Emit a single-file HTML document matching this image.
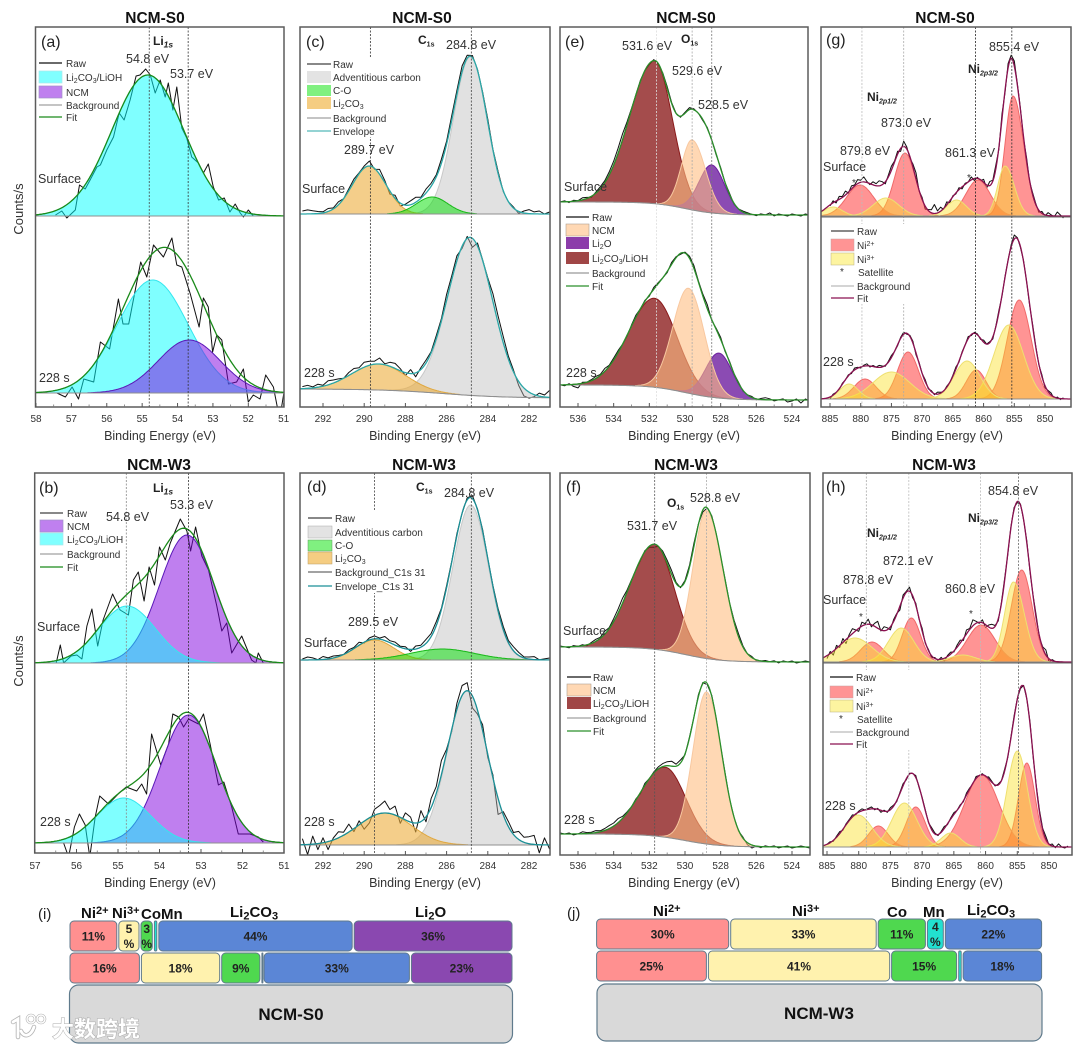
<!DOCTYPE html>
<html lang="en">
<head>
<meta charset="utf-8">
<title>XPS spectra of NCM-S0 and NCM-W3</title>
<style>
html,body{margin:0;padding:0;background:#fff;width:1080px;height:1048px;overflow:hidden}
svg{display:block;font-family:"Liberation Sans",Arial,sans-serif;fill:#222;filter:blur(.35px)}
.ti{font-size:15.5px;font-weight:bold;text-anchor:middle;fill:#111}
.ax{font-size:12.5px;text-anchor:middle;fill:#333}
.tk{font-size:10px;text-anchor:middle;fill:#333}
.pl{font-size:16px;fill:#222}
.t{font-size:12.5px;fill:#333}
.k{font-size:12px;font-weight:bold;fill:#222}
.l{font-size:10px;fill:#333}
.h{font-size:15px;font-weight:bold;fill:#111}
.s{font-size:7px}
.ss{font-size:8.5px;font-style:italic}
.hs{font-size:11px}
.big{font-size:17px;font-weight:bold;text-anchor:middle;fill:#111}
.bv{font-size:12px;font-weight:bold;text-anchor:middle;fill:#222}
</style>
</head>
<body>
<svg id="figure" xmlns="http://www.w3.org/2000/svg" width="1080" height="1048" viewBox="0 0 1080 1048">
<g id="marks"></g>

<!-- titles -->
<g>
<text class="ti" x="155" y="23">NCM-S0</text>
<text class="ti" x="422" y="23">NCM-S0</text>
<text class="ti" x="686" y="23">NCM-S0</text>
<text class="ti" x="945" y="23">NCM-S0</text>
<text class="ti" x="159" y="470">NCM-W3</text>
<text class="ti" x="424" y="470">NCM-W3</text>
<text class="ti" x="686" y="470">NCM-W3</text>
<text class="ti" x="944" y="470">NCM-W3</text>
</g>

<!-- axis titles -->
<g>
<text class="ax" x="160" y="440">Binding Energy (eV)</text>
<text class="ax" x="425" y="440">Binding Energy (eV)</text>
<text class="ax" x="684" y="440">Binding Energy (eV)</text>
<text class="ax" x="947" y="440">Binding Energy (eV)</text>
<text class="ax" x="160" y="887">Binding Energy (eV)</text>
<text class="ax" x="425" y="887">Binding Energy (eV)</text>
<text class="ax" x="684" y="887">Binding Energy (eV)</text>
<text class="ax" x="947" y="887">Binding Energy (eV)</text>
<text class="ax" style="font-size:13px" transform="translate(23,209) rotate(-90)">Counts/s</text>
<text class="ax" style="font-size:13px" transform="translate(23,661) rotate(-90)">Counts/s</text>
</g>

<!-- legends -->
<g>
<g><line x1="39" x2="62" y1="63" y2="63" stroke="#111" stroke-width="1.3"/><text class="l" x="66" y="67">Raw</text></g>
<g><rect x="39" y="71" width="23" height="12" fill="#80ffff" stroke="#a8e8ec" stroke-width=".7"/><text class="l" x="66" y="81">Li<tspan class="s" dy="2">2</tspan><tspan dy="-2">CO</tspan><tspan class="s" dy="2">3</tspan><tspan dy="-2">/LiOH</tspan></text></g>
<g><rect x="39" y="86" width="23" height="12" fill="#bf80ef" stroke="#a090c8" stroke-width=".7"/><text class="l" x="66" y="96">NCM</text></g>
<g><line x1="39" x2="62" y1="105" y2="105" stroke="#888" stroke-width="1"/><text class="l" x="66" y="109">Background</text></g>
<g><line x1="39" x2="62" y1="117" y2="117" stroke="#1a8a1a" stroke-width="1.3"/><text class="l" x="66" y="121">Fit</text></g>
</g>
<g>
<g><line x1="40" x2="63" y1="513" y2="513" stroke="#111" stroke-width="1"/><text class="l" x="67" y="517">Raw</text></g>
<g><rect x="40" y="520" width="23" height="12" fill="#bf80ef" stroke="#a090c8" stroke-width=".7"/><text class="l" x="67" y="530">NCM</text></g>
<g><rect x="40" y="533" width="23" height="12" fill="#80ffff" stroke="#a8e8ec" stroke-width=".7"/><text class="l" x="67" y="543">Li<tspan class="s" dy="2">2</tspan><tspan dy="-2">CO</tspan><tspan class="s" dy="2">3</tspan><tspan dy="-2">/LiOH</tspan></text></g>
<g><line x1="40" x2="63" y1="554" y2="554" stroke="#888" stroke-width="1"/><text class="l" x="67" y="558">Background</text></g>
<g><line x1="40" x2="63" y1="567" y2="567" stroke="#1a8a1a" stroke-width="1.3"/><text class="l" x="67" y="571">Fit</text></g>
</g>
<g>
<rect x="304" y="57" width="130" height="80" fill="#fff"/>
<g><line x1="307" x2="331" y1="64" y2="64" stroke="#111" stroke-width="1"/><text class="l" x="333" y="68">Raw</text></g>
<g><rect x="307" y="71" width="24" height="12" fill="#e3e3e3"/><text class="l" x="333" y="81">Adventitious carbon</text></g>
<g><rect x="307" y="85" width="24" height="11" fill="#80f080"/><text class="l" x="333" y="94">C-O</text></g>
<g><rect x="307" y="97" width="24" height="12" fill="#f5cd82"/><text class="l" x="333" y="107">Li<tspan class="s" dy="2">2</tspan><tspan dy="-2">CO</tspan><tspan class="s" dy="2">3</tspan></text></g>
<g><line x1="307" x2="331" y1="118" y2="118" stroke="#888" stroke-width="1"/><text class="l" x="333" y="122">Background</text></g>
<g><line x1="307" x2="331" y1="131" y2="131" stroke="#2aa7a7" stroke-width="1"/><text class="l" x="333" y="135">Envelope</text></g>
</g>
<g>
<rect x="305" y="511" width="130" height="82" fill="#fff"/>
<g><line x1="308" x2="332" y1="518" y2="518" stroke="#111" stroke-width="1"/><text class="l" x="335" y="522">Raw</text></g>
<g><rect x="308" y="526" width="24" height="12" fill="#e3e3e3" stroke="#aaa" stroke-width=".5"/><text class="l" x="335" y="536">Adventitious carbon</text></g>
<g><rect x="308" y="540" width="24" height="11" fill="#80f080" stroke="#5a9a5a" stroke-width=".5"/><text class="l" x="335" y="549">C-O</text></g>
<g><rect x="308" y="552" width="24" height="12" fill="#f5cd82" stroke="#b89a60" stroke-width=".5"/><text class="l" x="335" y="562">Li<tspan class="s" dy="2">2</tspan><tspan dy="-2">CO</tspan><tspan class="s" dy="2">3</tspan></text></g>
<g><line x1="308" x2="332" y1="572" y2="572" stroke="#444" stroke-width="1"/><text class="l" x="335" y="576">Background_C1s 31</text></g>
<g><line x1="308" x2="332" y1="586" y2="586" stroke="#1a8f96" stroke-width="1.2"/><text class="l" x="335" y="590">Envelope_C1s 31</text></g>
</g>
<g>
<g><line x1="566" x2="589" y1="217" y2="217" stroke="#111" stroke-width="1.3"/><text class="l" x="592" y="221">Raw</text></g>
<g><rect x="566" y="224" width="23" height="12" fill="#ffd8b4" stroke="#b0a090" stroke-width=".6"/><text class="l" x="592" y="234">NCM</text></g>
<g><rect x="566" y="237" width="23" height="12" fill="#8c3caa"/><text class="l" x="592" y="247">Li<tspan class="s" dy="2">2</tspan><tspan dy="-2">O</tspan></text></g>
<g><rect x="566" y="252" width="23" height="12" fill="#a04646"/><text class="l" x="592" y="262">Li<tspan class="s" dy="2">2</tspan><tspan dy="-2">CO</tspan><tspan class="s" dy="2">3</tspan><tspan dy="-2">/LiOH</tspan></text></g>
<g><line x1="566" x2="589" y1="273" y2="273" stroke="#999" stroke-width="1.2"/><text class="l" x="592" y="277">Background</text></g>
<g><line x1="566" x2="589" y1="286" y2="286" stroke="#2a8f2a" stroke-width="1.3"/><text class="l" x="592" y="290">Fit</text></g>
</g>
<g>
<g><line x1="567" x2="591" y1="677" y2="677" stroke="#111" stroke-width="1.3"/><text class="l" x="593" y="681">Raw</text></g>
<g><rect x="567" y="684" width="24" height="12" fill="#ffd8b4" stroke="#b0a090" stroke-width=".6"/><text class="l" x="593" y="694">NCM</text></g>
<g><rect x="567" y="697" width="24" height="12" fill="#a04646"/><text class="l" x="593" y="707">Li<tspan class="s" dy="2">2</tspan><tspan dy="-2">CO</tspan><tspan class="s" dy="2">3</tspan><tspan dy="-2">/LiOH</tspan></text></g>
<g><line x1="567" x2="591" y1="718" y2="718" stroke="#888" stroke-width="1"/><text class="l" x="593" y="722">Background</text></g>
<g><line x1="567" x2="591" y1="731" y2="731" stroke="#2a8f2a" stroke-width="1.3"/><text class="l" x="593" y="735">Fit</text></g>
</g>
<g>
<rect x="826" y="224" width="100" height="80" fill="#fff"/>
<g><line x1="831" x2="854" y1="231" y2="231" stroke="#111" stroke-width="1"/><text class="l" x="857" y="235">Raw</text></g>
<g><rect x="831" y="239" width="23" height="12" fill="#ff9494" stroke="#c8a0a0" stroke-width=".5"/><text class="l" x="857" y="249">Ni<tspan class="s" dy="-3">2+</tspan></text></g>
<g><rect x="831" y="253" width="23" height="12" fill="#fdf4a0" stroke="#b8b080" stroke-width=".5"/><text class="l" x="857" y="263">Ni<tspan class="s" dy="-3">3+</tspan></text></g>
<g><text class="l" x="840" y="275">*</text><text class="l" x="858" y="276">Satellite</text></g>
<g><line x1="831" x2="854" y1="286" y2="286" stroke="#bbb" stroke-width="1.2"/><text class="l" x="857" y="290">Background</text></g>
<g><line x1="831" x2="854" y1="298" y2="298" stroke="#8a1050" stroke-width="1.2"/><text class="l" x="857" y="302">Fit</text></g>
</g>
<g>
<rect x="826" y="670" width="100" height="80" fill="#fff"/>
<g><line x1="830" x2="853" y1="677" y2="677" stroke="#111" stroke-width="1.2"/><text class="l" x="856" y="681">Raw</text></g>
<g><rect x="830" y="686" width="23" height="12" fill="#ff9494" stroke="#c8a0a0" stroke-width=".5"/><text class="l" x="856" y="696">Ni<tspan class="s" dy="-3">2+</tspan></text></g>
<g><rect x="830" y="700" width="23" height="12" fill="#fdf4a0" stroke="#b8b080" stroke-width=".5"/><text class="l" x="856" y="710">Ni<tspan class="s" dy="-3">3+</tspan></text></g>
<g><text class="l" x="839" y="722">*</text><text class="l" x="857" y="723">Satellite</text></g>
<g><line x1="830" x2="853" y1="732" y2="732" stroke="#bbb" stroke-width="1.2"/><text class="l" x="856" y="736">Background</text></g>
<g><line x1="830" x2="853" y1="744" y2="744" stroke="#8a1050" stroke-width="1.2"/><text class="l" x="856" y="748">Fit</text></g>
</g>

<!-- annotations -->
<g>
<text class="pl" x="41" y="47">(a)</text>
<text class="k" x="153" y="45">Li<tspan class="ss" dy="2.5">1s</tspan></text>
<text class="t" x="126" y="63">54.8 eV</text>
<text class="t" x="170" y="78">53.7 eV</text>
<text class="t" x="38" y="183">Surface</text>
<text class="t" x="39" y="382">228 s</text>
</g>
<g>
<text class="pl" x="39" y="493">(b)</text>
<text class="k" x="153" y="492">Li<tspan class="ss" dy="2.5">1s</tspan></text>
<text class="t" x="106" y="521">54.8 eV</text>
<text class="t" x="170" y="509">53.3 eV</text>
<text class="t" x="37" y="631">Surface</text>
<text class="t" x="40" y="826">228 s</text>
</g>
<g>
<text class="pl" x="306" y="47">(c)</text>
<text class="k" x="418" y="44">C<tspan class="s" dy="2.5">1s</tspan></text>
<text class="t" x="446" y="49">284.8 eV</text>
<text class="t" x="344" y="154">289.7 eV</text>
<text class="t" x="302" y="193">Surface</text>
<text class="t" x="304" y="377">228 s</text>
</g>
<g>
<text class="pl" x="307" y="492">(d)</text>
<text class="k" x="416" y="491">C<tspan class="s" dy="2.5">1s</tspan></text>
<text class="t" x="444" y="497">284.8 eV</text>
<text class="t" x="348" y="626">289.5 eV</text>
<text class="t" x="304" y="647">Surface</text>
<text class="t" x="304" y="826">228 s</text>
</g>
<g>
<text class="pl" x="565" y="47">(e)</text>
<text class="k" x="681" y="43">O<tspan class="s" dy="2.5">1s</tspan></text>
<text class="t" x="622" y="50">531.6 eV</text>
<text class="t" x="672" y="75">529.6 eV</text>
<text class="t" x="698" y="109">528.5 eV</text>
<text class="t" x="564" y="191">Surface</text>
<text class="t" x="566" y="377">228 s</text>
</g>
<g>
<text class="pl" x="566" y="492">(f)</text>
<text class="k" x="667" y="507">O<tspan class="s" dy="2.5">1s</tspan></text>
<text class="t" x="690" y="502">528.8 eV</text>
<text class="t" x="627" y="530">531.7 eV</text>
<text class="t" x="563" y="635">Surface</text>
<text class="t" x="564" y="824">228 s</text>
</g>
<g>
<text class="pl" x="826" y="45">(g)</text>
<text class="k" x="968" y="73">Ni<tspan class="s" style="font-style:italic" dy="2.5">2p3/2</tspan></text>
<text class="k" x="867" y="101">Ni<tspan class="s" style="font-style:italic" dy="2.5">2p1/2</tspan></text>
<text class="t" x="989" y="51">855.4 eV</text>
<text class="t" x="881" y="127">873.0 eV</text>
<text class="t" x="840" y="155">879.8 eV</text>
<text class="t" x="945" y="157">861.3 eV</text>
<text class="t" x="823" y="171">Surface</text>
<text class="t" x="823" y="366">228 s</text>
<text class="l" x="852" y="186">*</text>
<text class="l" x="967" y="181">*</text>
</g>
<g>
<text class="pl" x="826" y="492">(h)</text>
<text class="k" x="968" y="522">Ni<tspan class="s" style="font-style:italic" dy="2.5">2p3/2</tspan></text>
<text class="k" x="867" y="537">Ni<tspan class="s" style="font-style:italic" dy="2.5">2p1/2</tspan></text>
<text class="t" x="988" y="495">854.8 eV</text>
<text class="t" x="883" y="565">872.1 eV</text>
<text class="t" x="843" y="584">878.8 eV</text>
<text class="t" x="945" y="593">860.8 eV</text>
<text class="t" x="823" y="604">Surface</text>
<text class="t" x="825" y="810">228 s</text>
<text class="l" x="859" y="620">*</text>
<text class="l" x="969" y="617">*</text>
</g>

<!-- composition headers -->
<g>
<text class="pl" x="38" y="919" style="font-size:15px">(i)</text>
<text class="h" x="81" y="918">Ni<tspan class="hs" dy="-4">2+</tspan></text>
<text class="h" x="112" y="918">Ni<tspan class="hs" dy="-4">3+</tspan></text>
<text class="h" x="141" y="919">Co</text>
<text class="h" x="161" y="919">Mn</text>
<text class="h" x="230" y="917">Li<tspan class="hs" dy="2.5">2</tspan><tspan dy="-2.5">CO</tspan><tspan class="hs" dy="2.5">3</tspan></text>
<text class="h" x="415" y="917">Li<tspan class="hs" dy="2.5">2</tspan><tspan dy="-2.5">O</tspan></text>
</g>
<g>
<text class="pl" x="567" y="918" style="font-size:15px">(j)</text>
<text class="h" x="653" y="916">Ni<tspan class="hs" dy="-4">2+</tspan></text>
<text class="h" x="792" y="916">Ni<tspan class="hs" dy="-4">3+</tspan></text>
<text class="h" x="887" y="917">Co</text>
<text class="h" x="923" y="917">Mn</text>
<text class="h" x="967" y="915">Li<tspan class="hs" dy="2.5">2</tspan><tspan dy="-2.5">CO</tspan><tspan class="hs" dy="2.5">3</tspan></text>
</g>

<!-- substrate boxes -->
<g>
<rect x="69.5" y="985" width="443" height="58" rx="9" fill="#d9d9d9" stroke="#5f7a8c" stroke-width="1.2"/>
<text class="big" x="291" y="1020">NCM-S0</text>
</g>
<g>
<rect x="597" y="984" width="445" height="57" rx="9" fill="#d9d9d9" stroke="#5f7a8c" stroke-width="1.2"/>
<text class="big" x="819" y="1019">NCM-W3</text>
</g>

<!-- watermark -->
<g>
<path d="M13 1022 L18 1019 L18 1037 M34 1027 C31 1036 24 1038 21 1031" fill="none" stroke="#b5b5b5" stroke-width="4.5" stroke-linecap="round"/>
<path d="M13 1022 L18 1019 L18 1037 M34 1027 C31 1036 24 1038 21 1031" fill="none" stroke="#fff" stroke-width="2.8" stroke-linecap="round"/>
<circle cx="31" cy="1019" r="4" fill="none" stroke="#b5b5b5" stroke-width="2.6"/>
<circle cx="31" cy="1019" r="4" fill="none" stroke="#fff" stroke-width="1.4"/>
<circle cx="41" cy="1019" r="4" fill="none" stroke="#b5b5b5" stroke-width="2.6"/>
<circle cx="41" cy="1019" r="4" fill="none" stroke="#fff" stroke-width="1.4"/>
<text x="52" y="1037" style="font-family:'Liberation Sans','Noto Sans CJK SC',sans-serif;font-size:22px;font-weight:bold;fill:#fff;stroke:#aaa;stroke-width:1;paint-order:stroke">大数跨境</text>
</g>
</svg>

<script>
/* ---- Spectra values.
   Peaks: centre (eV), height (counts above background), sigma (eV; a pair means high-energy side, low-energy side).
   Background: rise, centre (eV), width (eV). */
const aSurfaceSeries=['licarb'];const aSurfaceCenters=[54.84];const aSurfaceHeights=[141];const aSurfaceSigmas=[1.02];const aSurfaceBg=[0,55,1];
const aSurfaceRawE=[57.45,57.27,57.13,56.98,56.89,56.77,56.61,56.47,56.28,56.18,56.0,55.81,55.65,55.51,55.34,55.17,55.06,54.9,54.77,54.63,54.49,54.35,54.26,54.13,54.02,53.88,53.74,53.6,53.41,53.27,53.13,52.99,52.84,52.68,52.52,52.37,52.23,52.14,52.0,51.86];
const aSurfaceRawC=[1,5,-2,3,6,31,27,36,49,51,66,79,103,96,116,140,141,147,141,123,136,119,133,106,129,88,78,59,53,43,52,29,16,18,4,12,3,-1,6,0];
const aEtchedSeries=['licarb','ncm'];const aEtchedCenters=[54.7,53.67];const aEtchedHeights=[113,53];const aEtchedSigmas=[1.0,.88];const aEtchedBg=[0,55,1];
const aEtchedRawE=[57.41,57.17,56.98,56.8,56.65,56.37,56.18,55.92,55.67,55.54,55.38,55.04,54.87,54.68,54.4,54.16,54.02,53.88,53.64,53.39,53.27,53.13,53.01,52.89,52.75,52.56,52.33,52.14,52.0,51.86,51.67,51.51,51.29,51.18,51.06,51.0];
const aEtchedRawC=[0,-4,6,-6,14,11,51,44,94,69,69,131,116,148,136,155,128,126,99,66,95,86,41,58,53,9,11,24,-9,-2,-6,18,6,-14,-14,-1];

const bSurfaceSeries=['ncm','licarb'];const bSurfaceCenters=[53.34,54.78];const bSurfaceHeights=[128,57];const bSurfaceSigmas=[.66,.68];const bSurfaceBg=[0,55,1];
const bSurfaceRawE=[56.49,56.39,56.31,56.13,55.99,55.87,55.75,55.63,55.49,55.36,55.13,54.95,54.75,54.63,54.51,54.37,54.25,54.12,54.0,53.86,53.74,53.5,53.34,53.25,53.13,52.98,52.82,52.62,52.5,52.38,52.26,52.02,51.78,51.68,51.62,51.5];
const bSurfaceRawC=[0,18,0,7,8,4,37,54,17,43,69,53,48,83,91,62,96,78,116,103,120,144,132,112,136,107,93,57,32,40,10,27,3,0,10,0];
const bEtchedSeries=['ncm','licarb'];const bEtchedCenters=[53.3,54.86];const bEtchedHeights=[128,45];const bEtchedSigmas=[.67,.65];const bEtchedBg=[0,55,1];
const bEtchedRawE=[56.31,56.19,56.05,55.93,55.79,55.68,55.55,55.44,55.23,54.95,54.8,54.55,54.43,54.31,54.19,53.97,53.78,53.68,53.54,53.42,53.3,53.06,52.94,52.78,52.58,52.45,52.26,52.1,51.82,51.62,51.5];
const bEtchedRawC=[0,-14,16,29,18,-14,26,47,39,51,56,52,59,49,109,78,99,129,126,116,124,119,129,99,58,61,36,9,9,6,1];

const cSurfaceSeries=['adv','carb','co'];const cSurfaceCenters=[284.85,289.76,286.7];const cSurfaceHeights=[157,48,17];const cSurfaceSigmas=[.82,.82,.76];const cSurfaceBg=[0,286,1];
const cSurfaceRawGrid=[293,.25];
const cSurfaceResidual=[3,4,3,2,1,3,1,3,0,2,3,1,2,5,-1,5,2,-3,3,-3,1,4,5,1,4,3,2,4,3,5,4,6,3,2,1,2,3,1,2,-1,0,1,-2,2,4,2,3,0,2];
const cEtchedSeries=['adv','carb'];const cEtchedCenters=[284.86,289.3];const cEtchedHeights=[158,26];const cEtchedSigmas=[1.1,1.3];const cEtchedBg=[9,286.2,1.5];
const cEtchedRawGrid=[293,.25];
const cEtchedResidual=[2,3,1,3,1,4,3,2,0,3,4,2,5,4,3,6,1,4,5,2,-3,4,-4,2,3,1,3,2,6,4,5,-2,2,-9,3,1,2,8,7,6,3,2,-4,-8,-6,-2,3,2,7];

const dSurfaceSeries=['adv','carb','co'];const dSurfaceCenters=[284.83,289.5,286.2];const dSurfaceHeights=[155,20,11];const dSurfaceSigmas=[.86,.93,1.55];const dSurfaceBg=[0,286,1];
const dSurfaceRawGrid=[293,.25];
const dSurfaceResidual=[1,3,2,0,3,1,2,1,0,2,1,3,-1,2,3,1,4,2,3,1,2,-2,3,2,4,3,4,1,2,1,2,0,2,3,1,2,0,1,2,3,2,4,3,1,2,3,0,1,2];
const dEtchedSeries=['adv','carb'];const dEtchedCenters=[285,289.0];const dEtchedHeights=[154,32];const dEtchedSigmas=[.97,1.3];const dEtchedBg=[0,286,1];
const dEtchedRawGrid=[293,.25];
const dEtchedResidual=[6,-10,8,-6,5,-8,2,6,3,8,-3,4,-8,-5,6,8,12,4,9,-6,7,5,-9,11,-5,9,7,14,3,-2,6,10,8,-12,-4,6,-3,3,-16,3,5,2,8,5,7,9,-8,7,-4];

const eSurfaceSeries=['maroon','li2o','peach'];const eSurfaceCenters=[531.7,528.5,529.6];const eSurfaceHeights=[143,48,70];const eSurfaceSigmas=[[1.4,1.0],.72,[.6,.75]];const eSurfaceBg=[13,530,.9];
const eSurfaceRawGrid=[537,.25];
const eSurfaceResidual=[0,1,-1,1,0,2,1,-1,1,2,2,3,4,5,6,3,1,0,1,0,-1,1,-1,1,2,1,0,-1,1,2,1,0,-1,1,0,-1,1,0,1,-1,0,1,1,0,-1,1,0,2,-1,1,0,-1,1,0,-1,1,0];
const eEtchedSeries=['maroon','li2o','peach'];const eEtchedCenters=[531.7,528.1,529.8];const eEtchedHeights=[89,45,105];const eEtchedSigmas=[[1.45,1.25],.75,.88];const eEtchedBg=[15,530,1];
const eEtchedRawGrid=[537,.25];
const eEtchedResidual=[0,-1,1,-2,-4,1,0,1,2,1,3,1,2,2,0,-1,1,2,0,1,-1,2,1,0,-1,2,1,-1,1,2,3,1,2,4,-1,1,2,-1,1,0,1,-1,0,1,-1,1,2,1,-1,0,1,-2,-1,1,-3,1,-1];

const fSurfaceSeries=['maroon','peach'];const fSurfaceCenters=[531.7,528.8];const fSurfaceHeights=[105,148];const fSurfaceSigmas=[[1.37,1.1],[.75,.95]];const fSurfaceBg=[15,530,1];
const fSurfaceRawGrid=[537,.25];
const fSurfaceResidual=[1,0,-1,1,0,1,-1,1,2,1,3,1,3,4,5,2,1,0,-1,1,-1,-3,0,2,3,4,1,-1,1,2,3,1,-2,0,1,0,-1,1,0,2,3,1,0,1,-1,0,1,0,1,-1,1,0,1,-1,0,1,0];
const fEtchedSeries=['maroon','peach'];const fEtchedCenters=[531.1,528.8];const fEtchedHeights=[70,152];const fEtchedSigmas=[[1.4,1.15],[.75,.85]];const fEtchedBg=[13,530,1];
const fEtchedRawGrid=[537,.25];
const fEtchedResidual=[1,0,1,-1,0,2,1,1,2,1,2,3,3,4,2,1,0,1,-1,2,0,1,2,3,4,5,2,3,-1,1,0,2,1,-1,1,0,-1,1,-1,0,-1,1,-2,-3,0,-1,1,0,1,-1,0,1,-1,0,1,0,-1];

const gSurfaceSeries=['red','red','red','red','yellow','yellow','yellow','yellow'];const gSurfaceCenters=[855.2,860.9,872.8,880.1,856.5,864.4,875.9,884.5];const gSurfaceHeights=[120,36,63,31,50,16,18,9];const gSurfaceSigmas=[[1.3,1.7],2,1.7,2.2,[1.2,1.5],1.6,2.1,1.5];const gSurfaceBg=[0,860,1];
const gSurfaceRawGrid=[885,.5];
const gSurfaceResidual=[-1,2,-2,3,1,4,-1,3,1,4,2,5,1,-1,3,2,5,3,-2,2,4,1,3,-3,5,2,-2,3,6,-1,2,-3,1,3,9,2,4,-1,3,-2,1,-1,2,-2,1,0,3,-2,1,-1,3,-3,4,1,4,-2,5,-2,4,3,5,1,2,-2,3,-1,2,1,-2,2,-1,3,1,-1,4,1,-2];
const gEtchedSeries=['red','red','red','red','yellow','yellow','yellow','yellow'];const gEtchedCenters=[854.2,861.2,872.3,879.3,855.9,862.7,875,881.9];const gEtchedHeights=[99,29,47,20,74,38,27,15];const gEtchedSigmas=[1.95,1.6,1.7,1.8,2.4,2.1,3,1.5];const gEtchedBg=[0,860,1];
const gEtchedRawGrid=[885,.5];
const gEtchedResidual=[-2,1,0,-1,1,0,1,-1,2,1,-1,1,2,-1,1,0,2,1,-1,1,2,0,-1,1,2,-1,1,2,-2,1,0,2,-1,1,-1,2,1,-1,1,0,1,2,-1,1,0,2,-1,1,1,-1,2,0,1,-2,1,2,-1,1,0,2,4,1,-1,1,0,-1,2,1,-1,2,-2,1,2,-2,1,-1,1];

const hSurfaceSeries=['red','red','red','red','yellow','yellow','yellow','yellow'];const hSurfaceCenters=[854.3,860.7,871.7,877.9,855.6,863.6,873.3,880.6];const hSurfaceHeights=[92,37,44,20,80,7,34,24];const hSurfaceSigmas=[1.64,2.2,1.45,1.8,[1.4,1.7],2,2,2.7];const hSurfaceBg=[0,860,1];
const hSurfaceRawGrid=[885,.5];
const hSurfaceResidual=[-3,2,-4,3,-2,4,-4,2,5,1,-3,4,1,5,-2,3,7,-1,4,2,-3,2,1,-4,3,1,4,-2,2,-1,3,-1,1,-2,1,-1,2,-3,1,2,-1,2,3,-2,4,1,6,2,-1,3,-3,2,4,1,-2,1,2,-1,1,2,-1,1,0,2,-2,1,3,-2,1,5,-3,1,0,0,0,0,0];
const hEtchedSeries=['red','red','red','red','yellow','yellow','yellow','yellow'];const hEtchedCenters=[853.5,860.6,871,876.9,855,865.5,872.8,880.1];const hEtchedHeights=[84,72,40,21,96,14,44,32];const hEtchedSigmas=[1.3,2.7,1.5,1.55,1.6,1.5,2,2.2];const hEtchedBg=[0,860,1];
const hEtchedRawGrid=[885,.5];
const hEtchedResidual=[0,1,-1,1,2,-1,1,1,2,-1,1,2,0,1,2,-1,1,-2,1,-1,2,1,-1,1,2,-1,1,0,2,-1,1,1,-1,2,1,-1,1,2,-1,1,2,0,1,-1,2,1,-1,2,0,1,-1,2,1,-1,1,0,2,-1,1,2,1,-1,1,0,2,-1,1,2,1,3,-1,2,-1,3,0,-1,1];

/* tick labels */
const aTickLabels=[58,57,56,55,54,53,52,51];
const bTickLabels=[57,56,55,54,53,52,51];
const cTickLabels=[292,290,288,286,284,282];
const eTickLabels=[536,534,532,530,528,526,524];
const gTickLabels=[885,880,875,870,865,860,855,850];

/* reference energies */
const aRefEnergies=[54.8,53.7];const bRefEnergies=[54.8,53.3];
const cRefEnergies=[289.7,284.8];const dRefEnergies=[289.5,284.8];
const eRefEnergies=[531.6,529.6,528.5];const fRefEnergies=[531.7,528.8];
const gRefEnergies=[879.8,873.0,861.3,855.4];const hRefEnergies=[878.8,872.1,860.8,854.8];

/* composition bars */
const iCategories=['ni2','ni3','co','mn','carb','li2o'];
const iTopValues=[11,5,3,1,44,36];
const iBottomValues=[16,18,9,.5,33,23];
const jCategories=['ni2','ni3','co','mn','carb'];
const jTopValues=[30,33,11,4,22];
const jBottomValues=[25,41,15,1,18];

/* ---- styles and layout ---- */
const seriesStyles={
 licarb:{fill:'#00ffff',a:.5,line:'#35e6ee'},
 ncm:{fill:'#8000e0',a:.5,line:'#5a18b8'},
 adv:{fill:'#b8b8b8',a:.42,line:'#c8c8c8'},
 co:{fill:'#00e000',a:.5,line:'#18b818'},
 carb:{fill:'#ecae3c',a:.6,line:'#e0a840'},
 maroon:{fill:'#8a1a1a',a:.78,line:'#8a1a1a'},
 li2o:{fill:'#6e1ea0',a:.8,line:'#6e1ea0'},
 peach:{fill:'#ffbe82',a:.6,line:'#f8c8a0'},
 red:{fill:'#ff3c3c',a:.55,line:'#f06a6a'},
 yellow:{fill:'#fae028',a:.45,line:'#eee070'}
};
const barColors={ni2:'#ff9090',ni3:'#fff2ae',co:'#4fd84f',mn:'#22e0d0',carb:'#5b86d6',li2o:'#8a48b0'};

function sub(series,centers,heights,sigmas,bg,y0,rawE,rawC,grid,resid){return {series,centers,heights,sigmas,bg,y0,rawE,rawC,grid,resid};}

const panels=[
 {id:'a',L:35.5,T:27,R:284,B:407,e0:58,x0:36,e1:51,x1:283.7,ticks:aTickLabels,minor:1,tickY:422,fit:'#1a8a1a',refs:aRefEnergies,refCol:['#444','#333'],
  subs:[sub(aSurfaceSeries,aSurfaceCenters,aSurfaceHeights,aSurfaceSigmas,aSurfaceBg,216,aSurfaceRawE,aSurfaceRawC),
        sub(aEtchedSeries,aEtchedCenters,aEtchedHeights,aEtchedSigmas,aEtchedBg,393,aEtchedRawE,aEtchedRawC)]},
 {id:'b',L:34.7,T:473,R:284,B:853,e0:57,x0:35,e1:51,x1:284,ticks:bTickLabels,minor:1,tickY:869,fit:'#1a8a1a',refs:bRefEnergies,refCol:['#888','#333'],
  subs:[sub(bSurfaceSeries,bSurfaceCenters,bSurfaceHeights,bSurfaceSigmas,bSurfaceBg,663,bSurfaceRawE,bSurfaceRawC),
        sub(bEtchedSeries,bEtchedCenters,bEtchedHeights,bEtchedSigmas,bEtchedBg,843,bEtchedRawE,bEtchedRawC)]},
 {id:'c',L:300,T:27,R:550,B:407,e0:292,x0:323,e1:282,x1:529,ticks:cTickLabels,minor:1,tickY:422,fit:'#2aa7a7',refs:cRefEnergies,refCol:['#333','#444'],
  subs:[sub(cSurfaceSeries,cSurfaceCenters,cSurfaceHeights,cSurfaceSigmas,cSurfaceBg,214,null,null,cSurfaceRawGrid,cSurfaceResidual),
        sub(cEtchedSeries,cEtchedCenters,cEtchedHeights,cEtchedSigmas,cEtchedBg,398,null,null,cEtchedRawGrid,cEtchedResidual)]},
 {id:'d',L:300,T:473,R:550,B:855,e0:292,x0:323,e1:282,x1:529,ticks:cTickLabels,minor:1,tickY:869,fit:'#1a8f96',refs:dRefEnergies,refCol:['#444','#444'],
  subs:[sub(dSurfaceSeries,dSurfaceCenters,dSurfaceHeights,dSurfaceSigmas,dSurfaceBg,660,null,null,dSurfaceRawGrid,dSurfaceResidual),
        sub(dEtchedSeries,dEtchedCenters,dEtchedHeights,dEtchedSigmas,dEtchedBg,845,null,null,dEtchedRawGrid,dEtchedResidual)]},
 {id:'e',L:560,T:27,R:808,B:407,e0:536,x0:578,e1:524,x1:792,ticks:eTickLabels,minor:1,tickY:422,fit:'#2a8f2a',refs:eRefEnergies,refCol:['#ddd','#aaa','#777'],
  subs:[sub(eSurfaceSeries,eSurfaceCenters,eSurfaceHeights,eSurfaceSigmas,eSurfaceBg,215,null,null,eSurfaceRawGrid,eSurfaceResidual),
        sub(eEtchedSeries,eEtchedCenters,eEtchedHeights,eEtchedSigmas,eEtchedBg,400,null,null,eEtchedRawGrid,eEtchedResidual)]},
 {id:'f',L:560,T:473,R:810,B:855,e0:536,x0:578,e1:524,x1:792,ticks:eTickLabels,minor:1,tickY:869,fit:'#2a8f2a',refs:fRefEnergies,refCol:['#555','#aaa'],
  subs:[sub(fSurfaceSeries,fSurfaceCenters,fSurfaceHeights,fSurfaceSigmas,fSurfaceBg,662,null,null,fSurfaceRawGrid,fSurfaceResidual),
        sub(fEtchedSeries,fEtchedCenters,fEtchedHeights,fEtchedSigmas,fEtchedBg,847,null,null,fEtchedRawGrid,fEtchedResidual)]},
 {id:'g',L:821,T:27,R:1071,B:407,e0:885,x0:830,e1:850,x1:1045,ticks:gTickLabels,minor:2.5,tickY:422,fit:'#8a1050',divider:217,refs:gRefEnergies,refCol:['#bbb','#aaa','#222','#333'],
  subs:[sub(gSurfaceSeries,gSurfaceCenters,gSurfaceHeights,gSurfaceSigmas,gSurfaceBg,216,null,null,gSurfaceRawGrid,gSurfaceResidual),
        sub(gEtchedSeries,gEtchedCenters,gEtchedHeights,gEtchedSigmas,gEtchedBg,399,null,null,gEtchedRawGrid,gEtchedResidual)]},
 {id:'h',L:823,T:473,R:1072,B:855,e0:885,x0:827,e1:850,x1:1049,ticks:gTickLabels,minor:2.5,tickY:869,fit:'#8a1050',divider:663,refs:hRefEnergies,refCol:['#aaa','#bbb','#bbb','#666'],
  subs:[sub(hSurfaceSeries,hSurfaceCenters,hSurfaceHeights,hSurfaceSigmas,hSurfaceBg,662,null,null,hSurfaceRawGrid,hSurfaceResidual),
        sub(hEtchedSeries,hEtchedCenters,hEtchedHeights,hEtchedSigmas,hEtchedBg,847,null,null,hEtchedRawGrid,hEtchedResidual)]}
];

/* ---- drawing ---- */
const NS='http://www.w3.org/2000/svg';
const marks=document.getElementById('marks');
function svgEl(tag,parent){const el=document.createElementNS(NS,tag);parent.appendChild(el);return el;}

function peakAt(E,c,h,s){const w=Array.isArray(s)?(E>c?s[0]:s[1]):s;return h*Math.exp(-((E-c)*(E-c))/(2*w*w));}
function bgAt(E,bg){return bg[0]===0?0:bg[0]/(1+Math.exp(-(E-bg[1])/bg[2]));}
function fitAt(E,S){let v=bgAt(E,S.bg);for(let i=0;i<S.centers.length;i++)v+=peakAt(E,S.centers[i],S.heights[i],S.sigmas[i]);return v;}

const defs=svgEl('defs',marks);
panels.forEach(function(P){
 const xOf=function(E){return P.x0+(E-P.e0)*(P.x1-P.x0)/(P.e1-P.e0);};
 const eOf=function(px){return P.e0+(px-P.x0)*(P.e1-P.e0)/(P.x1-P.x0);};
 const cp=svgEl('clipPath',defs);cp.setAttribute('id','clip-'+P.id);
 const cr=svgEl('rect',cp);cr.setAttribute('x',P.L);cr.setAttribute('y',P.T);cr.setAttribute('width',P.R-P.L);cr.setAttribute('height',P.B-P.T);

 const g=svgEl('g',marks);
 
 
 const plot=svgEl('g',g);
 plot.setAttribute('clip-path','url(#clip-'+P.id+')');
 
 

 P.subs.forEach(function(S,si){
  const yOf=function(c){return S.y0-c;};
  /* raw trace */
  let rawPts=[];
  if(S.rawE){for(let i=0;i<S.rawE.length;i++){const e=S.rawE[i];rawPts.push(xOf(e).toFixed(1)+','+yOf(S.rawC[i]+bgAt(e,S.bg)).toFixed(1));}}
  else{for(let i=0;i<S.resid.length;i++){const e=S.grid[0]-i*S.grid[1];rawPts.push(xOf(e).toFixed(1)+','+yOf(fitAt(e,S)+S.resid[i]).toFixed(1));}}
  const raw=svgEl('polyline',plot);
  raw.setAttribute('points',rawPts.join(' '));
  raw.setAttribute('fill','none');raw.setAttribute('stroke','#111');raw.setAttribute('stroke-width','1');raw.setAttribute('stroke-linejoin','round');
  
  

  /* component peaks */
  for(let i=0;i<S.centers.length;i++){
   const st=seriesStyles[S.series[i]];
   let top=[],bot=[];
   for(let px=P.L;px<=P.R;px+=1){
    const e=eOf(px);const h=peakAt(e,S.centers[i],S.heights[i],S.sigmas[i]);
    if(h<.25)continue;
    const b=bgAt(e,S.bg);
    top.push(px+','+yOf(b+h).toFixed(1));
    bot.unshift(px+','+yOf(b).toFixed(1));
   }
   if(!top.length)continue;
   const area=svgEl('polygon',plot);
   area.setAttribute('points',top.concat(bot).join(' '));
   area.setAttribute('fill',st.fill);area.setAttribute('fill-opacity',st.a);
   
   
   const edge=svgEl('polyline',plot);
   edge.setAttribute('points',top.join(' '));
   edge.setAttribute('fill','none');edge.setAttribute('stroke',st.line);edge.setAttribute('stroke-width','1');
   
   
  }

  /* background */
  let bgPts=[],fitPts=[];
  for(let px=P.L;px<=P.R;px+=1){
   const e=eOf(px);
   bgPts.push(px+','+yOf(bgAt(e,S.bg)).toFixed(1));
   fitPts.push(px+','+yOf(fitAt(e,S)).toFixed(1));
  }
  const bl=svgEl('polyline',plot);
  bl.setAttribute('points',bgPts.join(' '));
  bl.setAttribute('fill','none');bl.setAttribute('stroke','#8f8f8f');bl.setAttribute('stroke-width','1.1');
  
  
  const fl=svgEl('polyline',plot);
  fl.setAttribute('points',fitPts.join(' '));
  fl.setAttribute('fill','none');fl.setAttribute('stroke',P.fit);fl.setAttribute('stroke-width','1.3');
  
  
 });

 /* reference lines */
 P.refs.forEach(function(E,i){
  const r=svgEl('line',plot);
  r.setAttribute('x1',xOf(E));r.setAttribute('x2',xOf(E));r.setAttribute('y1',P.T);r.setAttribute('y2',P.B);
  r.setAttribute('stroke',P.refCol[i]);r.setAttribute('stroke-width','.8');r.setAttribute('stroke-dasharray','2 1.5');
  
  
 });

 /* divider */
 if(P.divider){
  const d=svgEl('line',g);
  d.setAttribute('x1',P.L);d.setAttribute('x2',P.R);d.setAttribute('y1',P.divider);d.setAttribute('y2',P.divider);
  d.setAttribute('stroke','#666');d.setAttribute('stroke-width','1');
  
  
 }

 /* frame */
 const frame=svgEl('rect',g);
 frame.setAttribute('x',P.L);frame.setAttribute('y',P.T);frame.setAttribute('width',P.R-P.L);frame.setAttribute('height',P.B-P.T);
 frame.setAttribute('fill','none');frame.setAttribute('stroke','#5c5c5c');frame.setAttribute('stroke-width','1.5');
 
 

 /* ticks */
 const first=P.ticks[0],last=P.ticks[P.ticks.length-1];
 P.ticks.forEach(function(v){
  const t=svgEl('line',g);
  t.setAttribute('x1',xOf(v));t.setAttribute('x2',xOf(v));t.setAttribute('y1',P.B);t.setAttribute('y2',P.B-4);
  t.setAttribute('stroke','#555');t.setAttribute('stroke-width','1');
  
  
  const lab=svgEl('text',g);
  lab.setAttribute('x',xOf(v));lab.setAttribute('y',P.tickY);lab.setAttribute('class','tk');
  lab.textContent=String(v);
  
  
 });
 const step=P.minor;
 const span=Math.abs(P.ticks[1]-P.ticks[0]);
 const dir=last<first?-1:1;
 if(span>step||P.id==='a'||P.id==='b'){
  const m=(span>step)?step:span/2;
  for(let v=first+dir*m,n=0;n<60&&(dir<0?v>=last:v<=last);v+=dir*m*2,n++){
   const t=svgEl('line',g);
   t.setAttribute('x1',xOf(v));t.setAttribute('x2',xOf(v));t.setAttribute('y1',P.B);t.setAttribute('y2',P.B-2.5);
   t.setAttribute('stroke','#777');t.setAttribute('stroke-width','.8');
   
   
  }
 }
});

/* composition bars */
const barRows=[
 {cats:iCategories,vals:iTopValues,x0:70,W:444,y:921,h:30,tag:'i-top'},
 {cats:iCategories,vals:iBottomValues,x0:70,W:444,y:953,h:30,tag:'i-bottom'},
 {cats:jCategories,vals:jTopValues,x0:596.6,W:447,y:919,h:30,tag:'j-top'},
 {cats:jCategories,vals:jBottomValues,x0:596.6,W:447,y:951,h:30,tag:'j-bottom'}
];
barRows.forEach(function(R){
 const g=svgEl('g',marks);
 
 
 const total=R.vals.reduce(function(a,b){return a+b;},0);
 const k=R.W/total;
 let cum=0;
 R.vals.forEach(function(v,i){
  const x=R.x0+cum*k;const w=Math.max(v*k-2,1);
  cum+=v;
  const r=svgEl('rect',g);
  r.setAttribute('x',x.toFixed(1));r.setAttribute('y',R.y);r.setAttribute('width',w.toFixed(1));r.setAttribute('height',R.h);
  r.setAttribute('rx',Math.min(4,w/2));
  r.setAttribute('fill',barColors[R.cats[i]]);r.setAttribute('stroke','#5f7a8c');r.setAttribute('stroke-width','1');
  
  
  if(v<=1)return;
  const cx=x+w/2;
  const t=svgEl('text',g);
  t.setAttribute('class','bv');
  
  
  if(w<26){
   const a=svgEl('tspan',t);a.setAttribute('x',cx);a.setAttribute('y',R.y+12);a.textContent=String(v);
   const b=svgEl('tspan',t);b.setAttribute('x',cx);b.setAttribute('y',R.y+27);b.textContent='%';
  }else{
   t.setAttribute('x',cx);t.setAttribute('y',R.y+19.5);t.textContent=v+'%';
  }
 });
});
</script>
</body>
</html>
